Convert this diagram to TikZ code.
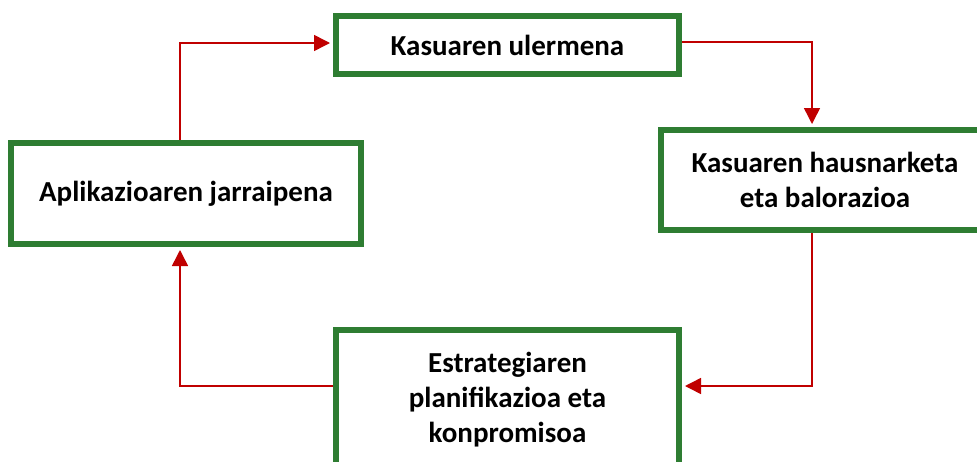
\documentclass[tikz,border=0pt]{standalone}
\usepackage{fontspec}
\setmainfont{Carlito}
\usetikzlibrary{arrows.meta,backgrounds}
\definecolor{boxgreen}{RGB}{46,125,50}
\definecolor{arrred}{RGB}{192,0,0}
\begin{document}
\begin{tikzpicture}[x=1pt,y=-1pt,
  box/.style={draw=boxgreen, line width=6pt, fill=white, align=center,
    font=\fontsize{29}{35}\selectfont\bfseries, inner sep=0pt},
  flow/.style={draw=arrred, line width=1.5pt, shorten >=3pt,
    -{Triangle[length=16pt,width=16pt]}}]
\useasboundingbox (0,0) rectangle (977,461);
\clip (0,0) rectangle (977,461);
\node[box, minimum width=343pt, minimum height=58pt] (um) at (507.5,45) {Kasuaren ulermena};
\node[box, minimum width=328pt, minimum height=100pt] (hb) at (825,180) {Kasuaren hausnarketa\\eta balorazioa};
\node[box, minimum width=343pt, minimum height=140pt] (sp) at (507.5,400) {Estrategiaren\\planifikazioa eta\\konpromisoa};
\node[box, minimum width=350pt, minimum height=101pt] (lj) at (186,193.5) {Aplikazioaren jarraipena};
\begin{scope}[on background layer]
\draw[flow] ([xshift=-6pt]lj.north) |- ([yshift=2pt]um.west);
\draw[flow] ([yshift=3pt]um.east) -| ([xshift=-13pt]hb.north);
\draw[flow] ([xshift=-13pt]hb.south) |- ([yshift=14pt]sp.east);
\draw[flow] ([yshift=14pt]sp.west) -| ([xshift=-6pt]lj.south);
\end{scope}
\end{tikzpicture}
\end{document}
